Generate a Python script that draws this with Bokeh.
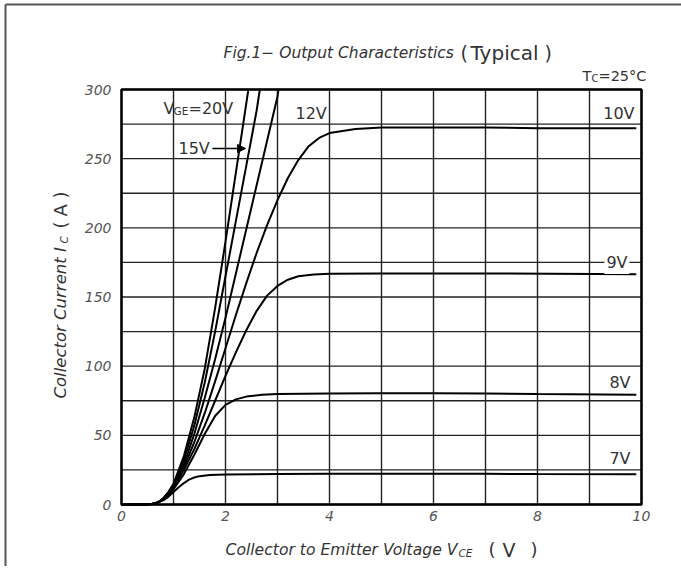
from bokeh.plotting import figure
from bokeh.models import Range1d, FixedTicker, Label, Arrow, NormalHead
from bokeh.embed import file_html
from bokeh.resources import INLINE
import math

# ---------------- data ----------------
vce_7v = [0, 0.5, 0.6, 0.7, 0.8, 0.9, 1.0, 1.1, 1.2, 1.3, 1.4, 1.5, 1.7, 2.0, 3.0, 4.0, 5.0, 6.0, 7.0, 8.0, 9.9]
ic_7v = [0, 0, 0.5, 1.5, 3, 5.5, 9, 12.5, 15.5, 18, 19.5, 20.5, 21.3, 21.7, 22, 22.2, 22.3, 22.3, 22.2, 22, 21.8]

vce_8v = [0, 0.5, 0.6, 0.7, 0.8, 0.9, 1.0, 1.2, 1.4, 1.6, 1.8, 2.0, 2.2, 2.4, 2.7, 3.0, 4.0, 5.0, 6.0, 7.0, 8.0, 9.9]
ic_8v = [0, 0, 0.5, 1.5, 3.5, 6.5, 11, 22, 36, 51, 64, 72, 76, 78, 79.3, 79.8, 80.2, 80.5, 80.5, 80.2, 79.8, 79.3]

vce_9v = [0, 0.5, 0.6, 0.7, 0.8, 0.9, 1.0, 1.2, 1.4, 1.6, 1.8, 2.0, 2.2, 2.4, 2.6, 2.8, 3.0, 3.2, 3.4, 3.7, 4.0, 5.0, 7.0, 9.9]
ic_9v = [0, 0, 0.5, 1.5, 3.5, 7, 12, 25, 40, 57, 75, 93, 110, 126, 140, 151, 158, 162.5, 165, 166.3, 166.8, 167, 167, 166.5]

vce_10v = [0, 0.5, 0.6, 0.7, 0.8, 0.9, 1.0, 1.2, 1.4, 1.6, 1.8, 2.0, 2.2, 2.4, 2.6, 2.8, 3.0, 3.2, 3.4, 3.6, 3.8, 4.0, 4.5, 5.0, 6.0, 7.0, 8.0, 9.9]
ic_10v = [0, 0, 0.5, 1.5, 3.5, 7.5, 12.5, 27, 45, 66, 89, 113, 137, 160, 182, 202, 220, 236, 249, 259, 265, 268.5, 271.5, 272.5, 272.5, 272.5, 272, 272]

vce_12v = [0, 0.5, 0.6, 0.7, 0.8, 0.9, 1.0, 1.2, 1.4, 1.6, 1.8, 2.0, 2.2, 2.4, 2.6, 2.8, 3.0, 3.02]
ic_12v = [0, 0, 0.5, 1.5, 4, 8, 13, 29, 51, 77, 105, 135, 167, 199, 231, 263, 295, 300]

vce_15v = [0, 0.5, 0.6, 0.7, 0.8, 0.9, 1.0, 1.2, 1.4, 1.6, 1.8, 2.0, 2.2, 2.4, 2.6, 2.66]
ic_15v = [0, 0, 0.5, 1.5, 4, 8.5, 14, 32, 57, 88, 125, 165, 205, 245, 285, 300]

vce_20v = [0, 0.5, 0.6, 0.7, 0.8, 0.9, 1.0, 1.2, 1.4, 1.6, 1.8, 2.0, 2.2, 2.4, 2.44]
ic_20v = [0, 0, 0.5, 1.5, 4.5, 9, 15, 35, 63, 98, 142, 190, 240, 290, 300]

x_ticks = [0, 2, 4, 6, 8, 10]
y_ticks = [0, 50, 100, 150, 200, 250, 300]
x_grid = [0, 1, 2, 3, 4, 5, 6, 7, 8, 9, 10]
y_grid = [0, 25, 50, 75, 100, 125, 150, 175, 200, 225, 250, 275, 300]

# ---------------- layout ----------------
W, H = 681, 566
PX0, PX1 = 121, 641      # page x of VCE = 0 and 10
PY0, PY1 = 504, 89       # page y of IC = 0 and 300
XMIN, XMAX = x_grid[0], x_grid[-1]
YMIN, YMAX = y_grid[0], y_grid[-1]


def dx(px):
    return XMIN + (px - PX0) * (XMAX - XMIN) / (PX1 - PX0)


def dy(py):
    return YMIN + (PY0 - py) * (YMAX - YMIN) / (PY0 - PY1)


p = figure(width=W, height=H, output_backend="svg", toolbar_location=None,
           x_range=Range1d(dx(0), dx(W)), y_range=Range1d(dy(H), dy(0)),
           min_border=0, min_border_left=0, min_border_right=0,
           min_border_top=0, min_border_bottom=0)
p.background_fill_color = "white"
p.border_fill_color = "white"
p.outline_line_color = None
p.xgrid.visible = False
p.ygrid.visible = False

# page frame (left and top edges of the sheet)
p.segment(x0=[dx(5), dx(5)], y0=[dy(4), dy(4)], x1=[dx(5), dx(W + 5)], y1=[dy(H + 20), dy(4)],
          line_color="#555555", line_width=2)

# grid lines and chart frame, drawn through the data scales
GRID = "#222222"
p.segment(x0=x_grid, y0=[YMIN] * len(x_grid), x1=x_grid, y1=[YMAX] * len(x_grid),
          line_color=GRID, line_width=1.4)
p.segment(x0=[XMIN] * len(y_grid), y0=y_grid, x1=[XMAX] * len(y_grid), y1=y_grid,
          line_color=GRID, line_width=1.4)
p.quad(left=[XMIN], right=[XMAX], bottom=[YMIN], top=[YMAX],
       fill_color=None, line_color="black", line_width=2.5)

# axes placed on the chart frame
p.xaxis.ticker = FixedTicker(ticks=x_ticks)
p.yaxis.ticker = FixedTicker(ticks=y_ticks)
p.xaxis.fixed_location = YMIN
p.yaxis.fixed_location = XMIN
for ax in (p.xaxis, p.yaxis):
    ax.axis_line_color = None
    ax.major_tick_line_color = None
    ax.minor_tick_line_color = None
    ax.major_tick_out = 0
    ax.major_tick_in = 0
    ax.major_label_text_font = "DejaVu Sans"
    ax.major_label_text_font_style = "italic"
    ax.major_label_text_font_size = "14px"
    ax.major_label_text_color = "#555555"
p.yaxis.major_label_standoff = 10
p.xaxis.major_label_standoff = 6

curves = [(vce_7v, ic_7v), (vce_8v, ic_8v), (vce_9v, ic_9v), (vce_10v, ic_10v),
          (vce_12v, ic_12v), (vce_15v, ic_15v), (vce_20v, ic_20v)]
for xs, ys in curves:
    p.line(xs, ys, line_color="black", line_width=2)

TXT = "#333333"
FONT = "DejaVu Sans"


def lab(text, px, py, size="16px", align="left", italic=False, font=FONT,
        angle=0.0, bg=None, color=TXT):
    kw = dict(x=dx(px), y=dy(py), text=text, text_font=font,
              text_font_size=size, text_align=align, text_baseline="middle",
              text_color=color, angle=angle,
              text_font_style="italic" if italic else "normal")
    if bg:
        kw.update(background_fill_color=bg, padding=2)
    p.add_layout(Label(**kw))


# curve labels
lab("10V", 634, 113, align="right")
lab("9V", 629, 262, align="right", bg="white")
lab("8V", 630, 382, align="right")
lab("7V", 630, 458, align="right")
lab("12V", 295, 113)
lab("V", 163, 108)
lab("GE", 173, 110, size="10.5px")
lab("=20V", 188, 108)
lab("15V", 178, 148)
p.add_layout(Arrow(end=NormalHead(size=8, line_color="black", fill_color="black", line_width=1),
                   x_start=dx(212), y_start=dy(148), x_end=dx(245), y_end=dy(148),
                   line_color="black", line_width=1.5))

# title
lab("Fig.1\u2212 Output Characteristics", 223, 52, size="15.5px", italic=True)
lab("(", 460, 52, size="19px")
lab("Typical", 470, 52, size="20px")
lab(")", 544, 52, size="19px")
lab("T", 582, 75, size="14.5px")
lab("C", 591, 78, size="10px")
lab("=25\u00b0C", 598, 75, size="14.5px")

# x axis label
lab("Collector to Emitter Voltage V", 225, 549, size="15.6px", italic=True)
lab("CE", 458, 552, size="10.5px", italic=True)
lab("(", 488, 549, size="18px")
lab("V", 502, 549, size="19px")
lab(")", 530, 549, size="18px")

# y axis label (rotated, reading upwards)
rot = math.pi / 2
lab("Collector Current I", 60, 398, size="16.5px", italic=True, angle=rot)
lab("C", 63, 243, size="10.5px", italic=True, angle=rot)
lab("(", 60, 228, size="18px", angle=rot)
lab("A", 60, 216, size="18px", angle=rot)
lab(")", 60, 198, size="18px", angle=rot)

open("out.html", "w").write(file_html(p, INLINE))
